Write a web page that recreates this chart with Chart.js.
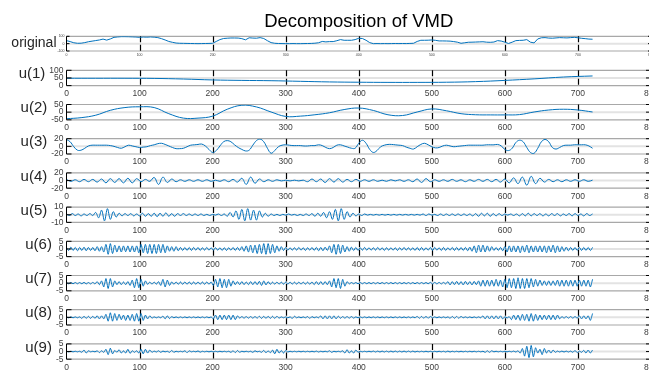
<!DOCTYPE html>
<html>
<head>
<meta charset="utf-8">
<script src="https://cdn.jsdelivr.net/npm/chart.js@4"></script>
<style>
  html, body { margin: 0; padding: 0; overflow: hidden; background: #fff; width: 649px; height: 372px; }
  canvas { position: absolute; left: 0; }
</style>
</head>
<body>
<script>
// values, one array per subplot (x = index * step)
var original = [
  41, 28, 12, 5, 6, 14, 26, 34, 42, 50, 62, 48,
  64, 86, 91, 95, 95, 94, 92, 90, 86, 90, 88, 91,
  88, 82, 68, 50, 30, 18, 8, 5, 4, 3, 2, 1,
  0, 1, 2, 3, 5, 30, 55, 70, 74, 77, 77, 76,
  68, 52, 80, 76, 74, 82, 70, 40, 14, 5, 2, 1,
  0, 0, 1, 0, 0, 1, 2, 3, 6, 12, 30, 24,
  28, 28, 40, 55, 46, 46, 46, 55, 73, 70, 46, 14,
  0, 1, 0, 1, 0, 1, 2, 1, 2, 1, 3, 5,
  30, 46, 46, 47, 50, 45, 37, 37, 36, 34, 28, 20,
  5, 12, 19, 20, 22, 24, 26, 20, 18, 22, 41, 35,
  20, 2, 20, 41, 44, 46, 55, 20, 10, 64, 80, 82,
  76, 74, 78, 82, 80, 78, 82, 86, 80, 73, 68, 62,
  60
];
var u1 = [48, 48, 48, 47, 43, 37, 34, 32, 28, 24, 22, 21, 21, 22, 26, 34, 44, 56, 63];
var u2 = [-43, -36, -20, 12, 30, 35, 30, -10, -39, -39, -26, 19, 45, 34, 1, -28, -26, -17, -4,
  17, 27, 11, -17, -22, 1, 21, 9, -10, -17, -18, -18, -16, 1, 14, 19, 14, 1];
var u3 = [
  18, 12, -1, -10, -10, -5, 1, 3, 3, 3, 3, 3,
  2, 0, -3, -5, -1, 3, 1, -1, -3, -2, -1, 2,
  4, 7, 8, 5, 1, -3, -6, -6, -5, -1, 3, 4,
  5, 6, 1, -8, -16, -11, 1, 12, 15, 12, 4, -3,
  -8, -12, -10, 3, 15, 19, 12, -5, -18, -11, -1, 3,
  4, 3, 2, 2, 2, 1, 1, 2, 2, 4, 2, -3,
  -6, -3, 3, 4, 1, -2, -5, -5, 8, 16, 8, -8,
  -16, -11, -1, 3, 5, 5, 4, 3, 2, -2, -5, -7,
  -1, 5, 8, 4, -1, -4, -3, 1, 3, 1, -1, 0,
  1, 2, 3, 3, 3, 3, 3, 4, 4, 4, 5, 1,
  -8, -11, -5, 10, 16, 12, -3, -16, -18, -5, 12, 18,
  12, -3, -7, -3, 2, 3, 3, 4, 4, 4, 4, 1,
  -5
];
var u4 = [
  3, -2, 2, -3, 3, -3, 3, -4, 4, -6,
  5, -5, 5, -6, 6, -6, 5, -3, 3, -2,
  8, -10, 9, -5, 4, -3, 2, -2, 2, -2,
  2, -2, 2, -2, 1, -2, 2, -3, 3, -4,
  6, -10, 9, -7, 4, -3, 2, -2, 2, -1,
  1, -1, 1, -1, 1, -3, 4, -3, 4, -5,
  5, -4, 5, -4, 3, -3, 3, -2, 2, -2,
  2, -2, 1, -2, 2, -1, 2, -2, 2, -3,
  4, -5, 5, -3, 2, -2, 2, -2, 3, -2,
  2, -3, 2, -2, 3, -2, 3, -3, 3, -4,
  4, -6, 7, -8, 9, -12, 11, -8, 6, -4,
  3, -3, 2, -3, 2, -2, 2, -2, 2, -2,
  1
];
var u5 = [
  1, -1, 1.5, -1, 1, -1.5, 1, -1, 1.5, -1, 3, -4, 6, -8, 8,
  -6, 4, -3, 2, -1.5, 1.5, -1, 1.5, -1.5, 1, -1.5, 2, -2, 1.5, -2,
  2, -2.5, 2, -2, 2.5, -2, 1.5, -2, 1.5, -1, 1.5, -1, 1, -1, 1,
  -1, 1, -1, 0.5, -1, 0.5, -0.5, 1, -1, 1, -2, 3, -3, 5, -6,
  7, -8, 8, -7, 6, -7, 5, -3, 2, -2, 1, -1, 0.5, -1, 0.5,
  -0.5, 1, -0.5, 0.5, -1, 0.5, -1, 1, -1, 1.5, -2, 2, -2, 3, -4,
  4, -6, 7, -8, 8, -6, 4, -3, 2, -1.5, 1, -1, 1, -0.5, 0.5,
  -0.5, 0.5, -0.5, 0.5, -0.5, 0.5, -0.5, 0.5, -0.5, 0.5, -0.5, 0.5, -0.5, 0.5, -0.5,
  0.5, -0.5, 1, -1, 1, -0.5, 0.5, -1, 1, -1, 1, -1, 1, -1, 1,
  -1, 1, -1, 1, -1.5, 1.5, -2, 2, -1.5, 2, -2, 1.5, -1.5, 1.5, -1,
  1, -0.5, 1, -1, 1, -1.5, 1.5, -1.5, 2, -1.5, 1.5, -1, 1.5, -1.5, 1,
  -1.5, 1.5, -1, 1.5, -1.5, 1, -1, 1.5, -1.5, 1.5, -1, 1, -1.5, 1.5, -1,
  1
];
var u6 = [
  1, -1, 1.2, -1, 1, -1.2, 1, -1, 1.2, -1.2, 1, -1, 1, -1.2, 1.5, -1.5, 1.5, -2, 3, -3.5,
  3.5, -3, 2.5, -2, 2, -2, 2, -1.8, 2, -2, 2, -2, 2, -2.5, 3, -2.5, 3, -3, 3, -3,
  3, -3, 3, -2.5, 3, -2.5, 2, -1.5, 1.5, -1.5, 1.5, -1.2, 1, -1, 1, -1, 1, -1, 1, -0.8,
  1, -1, 0.8, -0.8, 1, -0.8, 0.8, -0.8, 0.8, -0.8, 0.8, -1, 0.8, -1, 0.8, -0.8, 1, -1, 1, -1,
  1.5, -1.5, 2, -2, 2.5, -2.5, 2.5, -3, 3, -3, 3.5, -3.5, 3.5, -3, 3, -2.5, 2, -1.5, 1.5, -1,
  1, -0.8, 0.8, -0.8, 0.8, -0.8, 1, -0.8, 0.8, -1, 0.8, -0.8, 1, -1, 1, -1.2, 1, -1.2, 1.2, -1,
  2, -2.5, 3, -3.5, 3, -3, 2.5, -2, 1.5, -1.5, 1.2, -1, 1, -1, 0.8, -0.8, 1, -0.8, 0.8, -0.8,
  0.8, -0.8, 1, -0.8, 0.8, -1, 0.8, -0.8, 0.8, -0.8, 0.8, -1, 0.8, -0.8, 1, -0.8, 0.8, -0.8, 0.8, -1,
  1, -1, 1, -1, 0.8, -0.8, 1, -1, 1, -0.8, 0.8, -1, 1, -1, 0.8, -0.8, 1, -1, 1, -1,
  1, -1, 1, -1.2, 1.2, -1.5, 2, -2.5, 2.5, -2, 2.5, -2, 2, -1.5, 1.5, -1, 1, -1, 1, -1.2,
  1.5, -2, 2, -2, 2, -2, 2, -2.5, 2, -2, 2.5, -2.5, 2, -2, 2, -2, 2, -2, 2, -2.5,
  2, -2, 2.5, -2.5, 2, -2, 1.5, -1.5, 1.2, -1.2, 1, -1, 1, -1, 1, -1, 1, -1, 1, -1,
  1
];
var u7 = [
  0.4, -0.4, 0.4, -0.4, 0.4, -0.4, 0.4, -0.4, 0.5, -0.5, 0.4, -0.5, 0.5, -0.5, 1, -1, 1.5, -2.5, 3, -3.5,
  3, -2.5, 1.5, -1, 1, -1, 0.8, -1, 1, -1.5, 2, -3, 3, -3, 2.5, -2, 1.5, -0.8, 0.7, -0.7,
  0.7, -0.7, 1, -1.5, 2.5, -2.5, 2, -1.5, 0.8, -0.8, 0.8, -0.8, 0.8, -0.8, 0.8, -0.8, 0.8, -0.8, 0.8, -0.8,
  0.8, -0.8, 0.8, -0.8, 0.8, -0.8, 0.8, -1.5, 2.5, -2.5, 3, -3, 2.5, -3, 2.5, -2, 1.5, -1, 1, -1,
  1, -1, 0.8, -1, 1, -1, 1, -1, 1.2, -1.5, 1.5, -1.2, 1, -0.8, 0.7, -0.7, 0.7, -0.7, 0.7, -0.7,
  0.7, -0.7, 0.7, -0.7, 0.7, -0.7, 0.7, -0.7, 0.7, -0.7, 0.7, -0.8, 0.8, -1, 1, -1, 1, -1, 1, -1,
  1.5, -2.5, 3, -3, 3, -3.5, 2.5, -2, 1, -0.5, 0.4, -0.4, 0.4, -0.4, 0.4, -0.4, 0.4, -0.4, 0.4, -0.4,
  0.4, -0.4, 0.4, -0.4, 0.4, -0.4, 0.4, -0.4, 0.4, -0.4, 0.4, -0.4, 0.4, -0.4, 0.4, -0.4, 0.4, -0.4, 0.4, -0.4,
  0.4, -0.4, 0.4, -0.4, 0.4, -0.4, 0.5, -0.5, 0.5, -0.5, 0.5, -0.5, 0.5, -0.5, 1, -1.2, 1, -1, 1.2, -1,
  1, -1.2, 1.2, -1, 1, -1.2, 1.2, -1, 1.5, -2, 2, -2, 2, -2, 2, -2, 2.5, -2, 2, -2.5,
  2.5, -3, 3, -3, 3, -3.5, 3.5, -3.5, 3, -3.5, 3, -3, 3, -2.5, 2.5, -2, 2, -1.5, 1.5, -1.5,
  1.5, -1.5, 1.5, -1.5, 2, -2, 2, -2, 2, -2, 2, -2, 2, -2, 2, -2, 2, -2, 2, -2.5,
  2.5
];
var u8 = [
  0.3, -0.3, 0.3, -0.3, 0.3, -0.3, 0.3, -0.7, 0.7, -0.7, 0.7, -0.7, 0.7, -0.7, 1, -1, 1, -1, 2, -2.5,
  3, -2.5, 2.5, -2, 2, -1.5, 1.5, -2, 1.5, -2, 2, -2.5, 2.5, -2.5, 2.5, -2, 1.5, -1, 1, -0.5,
  0.3, -0.3, 0.3, -0.3, 0.8, -1, 1, -0.8, 0.5, -0.3, 0.3, -0.3, 0.3, -0.3, 0.3, -0.3, 0.3, -0.3, 0.3, -0.3,
  0.3, -0.3, 0.3, -0.3, 0.3, -0.3, 0.3, -1, 1.5, -1.5, 1.5, -1.5, 1.5, -1.5, 1.5, -1.5, 1.5, -1.5, 1, -0.5,
  0.5, -0.5, 0.5, -0.5, 0.5, -0.5, 0.5, -0.5, 0.7, -0.7, 0.7, -0.7, 0.7, -0.7, 0.7, -0.7, 0.7, -0.5, 0.3, -0.3,
  0.3, -0.3, 0.3, -0.7, 0.7, -0.3, 0.3, -0.3, 0.3, -0.3, 0.5, -0.7, 0.5, -0.3, 0.3, -0.3, 1, -1, 1, -1,
  1, -1, 1, -1, 0.8, -0.6, 0.5, -0.5, 0.5, -0.5, 0.5, -0.5, 0.3, -0.3, 0.3, -0.3, 0.3, -0.3, 0.3, -0.3,
  0.3, -0.3, 0.3, -0.3, 0.3, -0.3, 0.3, -0.3, 0.3, -0.3, 0.3, -0.3, 0.3, -0.3, 0.3, -0.3, 0.3, -0.3, 0.3, -0.3,
  0.6, -0.6, 0.6, -0.6, 0.6, -0.6, 0.6, -0.3, 0.3, -0.3, 0.3, -0.3, 0.3, -0.3, 0.3, -0.6, 0.6, -0.6, 0.6, -0.6,
  0.6, -0.3, 0.3, -0.3, 0.3, -0.3, 0.3, -0.3, 0.3, -0.3, 1, -1, 1, -1, 1, -1, 1, -1, 1, -1,
  0.4, -0.4, 0.4, -1.5, 1.5, -1.5, 1.5, -2, 2, -2, 2, -2.5, 2.5, -2.5, 2, -2, 1.5, -1.5, 1.5, -1.5,
  1.5, -1.5, 1.5, -1.5, 1.5, -1, 0.5, -0.5, 0.5, -0.5, 0.5, -0.5, 0.5, -0.5, 1, -1, 1, -1, 1, -2,
  2.5
];
var u9 = [
  0.2, -0.2, 0.2, -0.2, 0.2, -0.2, 0.2, -0.5, 1, -1, 0.5, -0.2, 0.2, -0.2, 0.5, -0.7, 0.5, -0.5, 1.5, -2,
  2.2, -1.5, 0.7, -0.5, 1.2, -1, 0.5, -1, 1.5, -1.2, 0.5, -0.5, 0.5, -1, 1.5, -1.5, 1.5, -1, 1, -0.5,
  0.3, -0.3, 0.5, -0.5, 0.3, -0.2, 0.2, -0.5, 0.7, -0.5, 0.2, -0.2, 0.2, -0.2, 0.5, -0.7, 0.5, -0.2, 0.2, -0.2,
  0.4, -0.4, 0.2, -0.2, 0.2, -0.2, 0.2, -0.2, 0.2, -0.2, 0.2, -0.2, 0.2, -0.2, 0.2, -0.5, 0.5, -0.7, 0.7, -0.5,
  0.2, -0.2, 0.2, -0.2, 0.2, -0.5, 0.5, -0.2, 0.2, -0.5, 0.8, -0.8, 0.5, -0.8, 1, -1.5, 1.5, -1, 0.7, -1,
  0.7, -0.3, 0.2, -0.2, 0.2, -0.2, 0.2, -0.2, 0.2, -0.2, 0.2, -0.2, 0.2, -0.2, 0.3, -0.3, 0.2, -0.2, 0.2, -0.2,
  0.5, -0.5, 0.2, -0.2, 0.2, -0.2, 0.5, -1, 1.2, -1, 0.5, -1, 1, -0.5, 0.2, -0.2, 0.2, -0.2, 0.2, -0.2,
  0.3, -0.3, 0.3, -0.3, 0.3, -0.3, 0.3, -0.3, 0.3, -0.3, 0.3, -0.3, 0.3, -0.3, 0.3, -0.3, 0.3, -0.3, 0.3, -0.3,
  0.2, -0.2, 0.2, -0.2, 0.2, -0.2, 0.2, -0.2, 0.2, -0.2, 0.2, -0.2, 0.2, -0.3, 0.3, -0.3, 0.2, -0.2, 0.2, -0.2,
  0.2, -0.2, 0.2, -0.2, 0.2, -0.2, 0.2, -0.2, 0.2, -0.2, 0.2, -0.5, 0.5, -0.5, 0.5, -0.2, 0.2, -0.2, 0.2, -0.2,
  0.2, -0.2, 0.2, -0.2, 0.3, -0.3, 0.5, -1, 2, -3, 3.5, -4, 4, -3.5, 2.5, -1, 1.5, -2, 2, -1,
  1, -1, 1, -0.5, 0.3, -0.3, 0.3, -0.3, 0.3, -0.3, 0.3, -0.5, 0.7, -0.7, 0.3, -0.5, 0.8, -1, 1, -1,
  1
];
var xTicks = [0, 100, 200, 300, 400, 500, 600, 700, 800];

var panels = [
  { label: "original", data: original, step: 5, yTicks: [-100, 0, 100], top: 36.3, height: 14.7, tension: 0 },
  { label: "u(1)", data: u1, step: 40, yTicks: [0, 50, 100], tension: 0.4 },
  { label: "u(2)", data: u2, step: 20, yTicks: [-50, 0, 50], tension: 0.4 },
  { label: "u(3)", data: u3, step: 5, yTicks: [-20, 0, 20], tension: 0.4 },
  { label: "u(4)", data: u4, step: 6, yTicks: [-20, 0, 20], tension: 0.4 },
  { label: "u(5)", data: u5, step: 4, yTicks: [-10, 0, 10], tension: 0.35 },
  { label: "u(6)", data: u6, step: 3, yTicks: [-5, 0, 5], tension: 0.3 },
  { label: "u(7)", data: u7, step: 3, yTicks: [-5, 0, 5], tension: 0.2 },
  { label: "u(8)", data: u8, step: 3, yTicks: [-5, 0, 5], tension: 0.2 },
  { label: "u(9)", data: u9, step: 3, yTicks: [-5, 0, 5], tension: 0.2 }
];

Chart.defaults.font.family = '"Liberation Sans", Arial, sans-serif';

var AXIS_LEFT = 66.5;
var CANVAS_W = 663;

var framePlugin = {
  id: "frame",
  beforeDatasetsDraw: function (chart) {
    var a = chart.chartArea, ctx = chart.ctx;
    var xs = chart.scales.x, ys = chart.scales.y;
    ctx.save();
    // light grid line at the middle tick
    var ym = ys.getPixelForValue(ys.ticks[1].value);
    ctx.strokeStyle = "#e3e3e3";
    ctx.lineWidth = 2;
    ctx.beginPath();
    ctx.moveTo(a.left, ym);
    ctx.lineTo(a.right, ym);
    ctx.stroke();
    // top / bottom box lines
    ctx.strokeStyle = "#a8a8a8";
    ctx.lineWidth = 1.2;
    ctx.beginPath();
    ctx.moveTo(a.left, a.top);
    ctx.lineTo(a.right, a.top);
    ctx.moveTo(a.left, a.bottom);
    ctx.lineTo(a.right, a.bottom);
    ctx.stroke();
    // black dashed x grid
    ctx.strokeStyle = "#000";
    ctx.lineWidth = 1.2;
    ctx.setLineDash([6, 2.5]);
    xTicks.forEach(function (v) {
      if (v === 0 || v === 800) return;
      var px = Math.round(xs.getPixelForValue(v)) + 0.5;
      ctx.beginPath();
      ctx.moveTo(px, a.top);
      ctx.lineTo(px, a.bottom);
      ctx.stroke();
    });
    ctx.restore();
  },
  afterDatasetsDraw: function (chart, args, opts) {
    var a = chart.chartArea, ctx = chart.ctx, ys = chart.scales.y;
    ctx.save();
    ctx.strokeStyle = "#000";
    ctx.lineWidth = 1;
    ctx.beginPath();
    ctx.moveTo(a.left, a.top);
    ctx.lineTo(a.left, a.bottom);
    ctx.moveTo(a.right, a.top);
    ctx.lineTo(a.right, a.bottom);
    ys.ticks.forEach(function (t) {
      var py = ys.getPixelForValue(t.value);
      ctx.moveTo(a.left, py);
      ctx.lineTo(a.left + opts.tickLen, py);
      ctx.moveTo(a.right - opts.tickLen, py);
      ctx.lineTo(a.right, py);
    });
    ctx.stroke();

    // horizontal side label, left of the widest tick label
    var w = 0;
    ctx.font = opts.tickSize + 'px "Liberation Sans", Arial, sans-serif';
    ys.ticks.forEach(function (t) { w = Math.max(w, ctx.measureText(String(t.value)).width); });
    ctx.font = opts.labelSize + 'px "Liberation Sans", Arial, sans-serif';
    ctx.fillStyle = "#262626";
    ctx.textAlign = "right";
    ctx.textBaseline = "middle";
    var mid = (a.top + a.bottom) / 2;
    ctx.fillText(opts.text, a.left - opts.tickPad - w - opts.labelGap, mid - opts.labelRise);
    ctx.restore();
  }
};

panels.forEach(function (p, i) {
  var first = i === 0;
  var top = first ? p.top : 70.3 + 34.2 * (i - 1);
  var h = first ? p.height : 15.3;
  var axisH = first ? 8 : 20;
  var canvasTop = first ? 0 : Math.floor(top) - 8;
  var padTop = first ? 0 : top - canvasTop;
  var canvasH = Math.ceil(top + h + axisH - canvasTop);
  var padBottom = canvasH - axisH - (top + h - canvasTop);
  var tickSize = first ? 3.5 : 8.5;
  var tickPad = first ? 2 : 3;

  var cv = document.createElement("canvas");
  cv.width = CANVAS_W;
  cv.height = canvasH;
  cv.style.top = canvasTop + "px";
  document.body.appendChild(cv);

  var pts = p.data.map(function (v, k) { return { x: k * p.step, y: v }; });

  new Chart(cv.getContext("2d"), {
    type: "line",
    data: {
      datasets: [{
        data: pts,
        borderColor: "#0072BD",
        borderWidth: 1,
        pointRadius: 0,
        tension: p.tension,
        fill: false
      }]
    },
    options: {
      responsive: false,
      animation: false,
      devicePixelRatio: 1,
      events: [],
      layout: { padding: { top: padTop, bottom: padBottom, left: 0, right: 12 } },
      plugins: {
        legend: { display: false },
        tooltip: { enabled: false },
        title: first ? {
          display: true,
          text: "Decomposition of VMD",
          fullSize: false,
          color: "#000",
          font: { size: 18.5, weight: "normal" },
          padding: { top: 10.5, bottom: p.top - 10.5 - 22.2 }
        } : { display: false },
        frame: {
          text: p.label,
          labelSize: first ? 14 : 15,
          labelGap: first ? 1 : 4,
          labelRise: first ? 0.5 : 4,
          tickSize: tickSize,
          tickPad: tickPad,
          tickLen: first ? 3 : 5
        }
      },
      scales: {
        x: {
          type: "linear",
          min: 0,
          max: 800,
          afterBuildTicks: function (s) { s.ticks = xTicks.map(function (v) { return { value: v }; }); },
          afterFit: function (s) { s.height = axisH; },
          grid: { display: false, drawTicks: false },
          border: { display: false },
          ticks: {
            autoSkip: false,
            maxRotation: 0,
            padding: first ? 1.5 : 3,
            color: "#404040",
            font: { size: tickSize },
            callback: function (v) { return String(v); }
          }
        },
        y: {
          type: "linear",
          min: p.yTicks[0],
          max: p.yTicks[2],
          afterBuildTicks: function (s) { s.ticks = p.yTicks.map(function (v) { return { value: v }; }); },
          afterFit: function (s) { s.width = AXIS_LEFT; },
          grid: { display: false, drawTicks: false },
          border: { display: false },
          ticks: {
            autoSkip: false,
            padding: tickPad,
            color: "#404040",
            font: { size: tickSize },
            callback: function (v) { return String(v); }
          }
        }
      }
    },
    plugins: [framePlugin]
  });
});
</script>
</body>
</html>
